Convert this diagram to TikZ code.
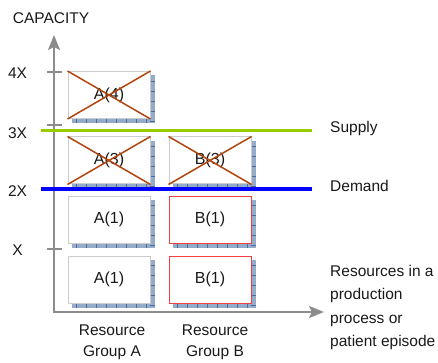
\documentclass[tikz,border=0pt]{standalone}
\usepackage{fontspec}
\setmainfont{Liberation Sans}
\usetikzlibrary{arrows.meta}
\definecolor{axisc}{gray}{0.55}
\definecolor{shadowc}{rgb}{0.58,0.67,0.79}
\definecolor{shadowd}{rgb}{0.30,0.42,0.62}
\definecolor{boxgray}{gray}{0.80}
\definecolor{boxred}{rgb}{0.95,0.25,0.25}
\definecolor{crossc}{rgb}{0.70,0.27,0.05}
\definecolor{supplyc}{rgb}{0.60,0.80,0.0}
\definecolor{demandc}{rgb}{0.0,0.0,1.0}
\definecolor{txt}{gray}{0.1}
\tikzset{
  lbl/.style={font=\fontsize{15.5}{21}\selectfont, text=txt, inner sep=0pt},
  rb/.style={draw=#1, line width=1pt, fill=white, minimum width=82pt, minimum height=47pt, inner sep=0pt, font=\fontsize{16}{18}\selectfont, text=txt},
  crossline/.style={draw=crossc, line width=1.5pt},
  tickline/.style={draw=axisc, line width=1.5pt},
  level/.style={line width=3pt}
}
\newcommand\resbox[5]{%
  % #1 name, #2 cx, #3 cy, #4 text, #5 border colour
  \fill[shadowc] (#2-37,#3-19.5) rectangle (#2+46,#3+28.5);
  \foreach \k in {0,...,7} {\draw[shadowd, line width=0.5pt] (#2-33+10*\k,#3+23.5) -- (#2-33+10*\k,#3+28.5);}
  \foreach \k in {0,...,4} {\draw[shadowd, line width=0.5pt] (#2+41,#3-14+10*\k) -- (#2+46,#3-14+10*\k);}
  \node[rb=#5] (#1) at (#2,#3) {#4};
}
\newcommand\crossout[1]{%
  \draw[crossline] (#1.north west) -- (#1.south east);
  \draw[crossline] (#1.north east) -- (#1.south west);
}
\begin{document}
\begin{tikzpicture}[x=1pt,y=-1pt]
\useasboundingbox (0,0) rectangle (438,363);
% axes
\coordinate (origin) at (54,312);
\coordinate (ytip) at (54,35);
\coordinate (xtip) at (324,312);
\draw[axisc, line width=2pt, {Stealth[length=15pt,width=12pt,inset=3pt]}-{Stealth[length=15pt,width=12pt,inset=3pt]}] (ytip) -- (origin) -- (xtip);
% ticks and labels
\foreach \yy/\tx/\nm in {72/4X/t4, 125/3X/t3, 190/2X/t2, 249/X/t1} {
  \coordinate (\nm a) at (47,\yy);
  \coordinate (\nm b) at (62,\yy);
  \draw[tickline] (\nm a) -- (\nm b);
}
\node[lbl] (l4) at (17.5,73) {4X};
\node[lbl] (l3) at (17.5,133) {3X};
\node[lbl] (l2) at (17.5,191) {2X};
\node[lbl] (l1) at (17.5,250) {X};
\node[lbl] (cap) at (51,18) {CAPACITY};
% boxes
\resbox{a4}{109}{95}{A(4)}{boxgray}
\resbox{a3}{109}{160.5}{A(3)}{boxgray}
\resbox{b3}{210}{160.5}{B(3)}{boxgray}
\resbox{a2}{109}{219.5}{A(1)}{boxgray}
\resbox{b2}{210}{219.5}{B(1)}{boxred}
\resbox{a1}{109}{279.5}{A(1)}{boxgray}
\resbox{b1}{210}{279.5}{B(1)}{boxred}
\crossout{a4}
\crossout{a3}
\crossout{b3}
% supply / demand lines
\coordinate (sL) at (41,131);
\coordinate (sR) at (312,131);
\coordinate (dL) at (41,189);
\coordinate (dR) at (312,189);
\draw[level, supplyc] (sL) -- (sR);
\draw[level, demandc] (dL) -- (dR);
\node[lbl, anchor=west] (supply) at (330,128) {Supply};
\node[lbl, anchor=west] (demand) at (330,186) {Demand};
% bottom labels
\node[lbl, align=center] (ga) at (112,342.5) {Resource\\Group A};
\node[lbl, align=center] (gb) at (215,342.5) {Resource\\Group B};
\node[lbl, align=left, anchor=north west, font=\fontsize{15.5}{23.5}\selectfont] (res) at (330,265) {Resources in a\\production\\process or\\patient episode};
\end{tikzpicture}
\end{document}
